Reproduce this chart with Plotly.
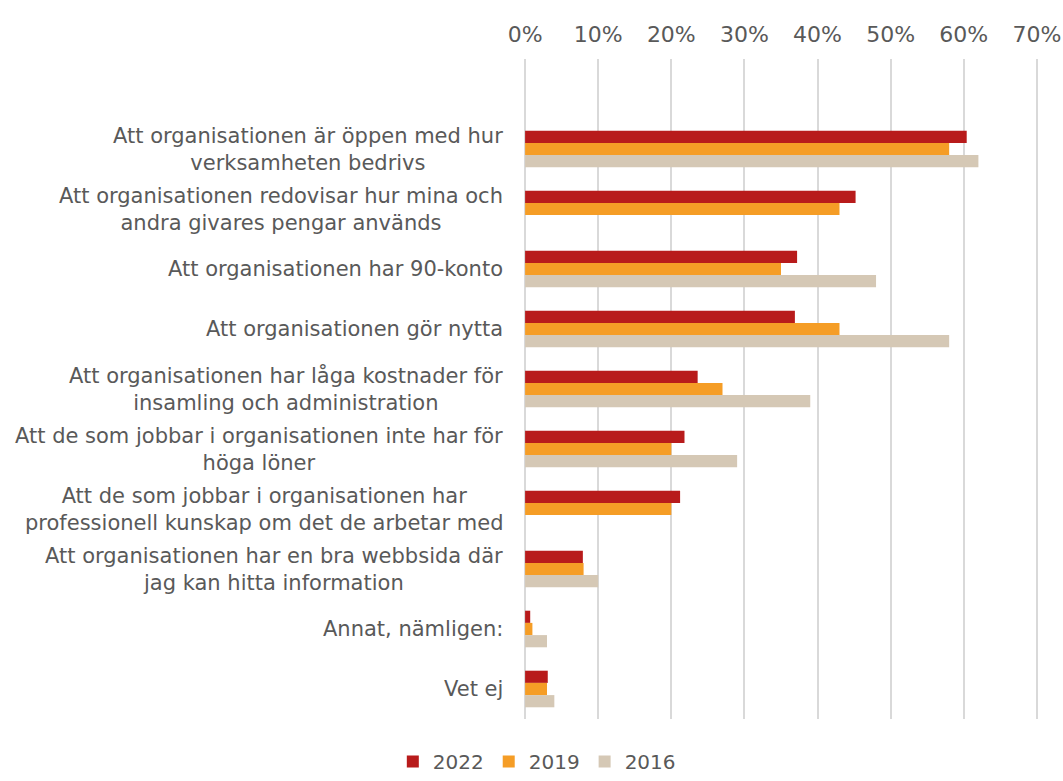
import plotly.graph_objects as go

categories = [
    "Att organisationen är öppen med hur<br>verksamheten bedrivs",
    "Att organisationen redovisar hur mina och<br>andra givares pengar används",
    "Att organisationen har 90-konto",
    "Att organisationen gör nytta",
    "Att organisationen har låga kostnader för<br>insamling och administration",
    "Att de som jobbar i organisationen inte har för<br>höga löner",
    "Att de som jobbar i organisationen har<br>professionell kunskap om det de arbetar med",
    "Att organisationen har en bra webbsida där<br>jag kan hitta information",
    "Annat, nämligen:",
    "Vet ej",
]
cat_keys = [f"c{i}" for i in range(len(categories))]

v2022 = [60.4, 45.2, 37.2, 36.9, 23.6, 21.8, 21.2, 7.9, 0.7, 3.1]
v2019 = [58.0, 43.0, 35.0, 43.0, 27.0, 20.0, 20.0, 8.0, 1.0, 3.0]
v2016 = [62.0, None, 48.0, 58.0, 39.0, 29.0, None, 10.0, 3.0, 4.0]

x_ticks = [0, 10, 20, 30, 40, 50, 60, 70]
x_tick_labels = [f"{t}%" for t in x_ticks]

series = [("2022", v2022, "#B81B1B"), ("2019", v2019, "#F59D26"), ("2016", v2016, "#D5C8B5")]

FONT = "DejaVu Sans"
GREY = "#595959"
GRID = "#D9D9D9"

fig = go.Figure()
for name, vals, col in series:
    fig.add_trace(go.Bar(
        y=cat_keys, x=vals, name=name, orientation="h",
        marker=dict(color=col, line=dict(width=0)),
    ))

for key, label in zip(cat_keys, categories):
    fig.add_annotation(
        x=0, xref="paper", y=key, yref="y", xanchor="right", yanchor="middle",
        xshift=-19, text=label, showarrow=False, align="center",
        font=dict(family=FONT, size=21, color=GREY),
    )

fig.update_layout(
    width=1063, height=781,
    margin=dict(l=524, r=25, t=59, b=62),
    paper_bgcolor="white", plot_bgcolor="white",
    barmode="group", bargap=0.39, bargroupgap=0,
    font=dict(family=FONT, size=20, color=GREY),
    xaxis=dict(
        side="top", range=[-0.15, 70.15], tickvals=x_ticks, ticktext=x_tick_labels,
        showgrid=True, gridcolor=GRID, gridwidth=1.5, automargin=False,
        zeroline=False, showline=False, ticks="", ticklen=0,
        ticklabelstandoff=12,
        tickfont=dict(family=FONT, size=22, color=GREY),
    ),
    yaxis=dict(
        type="category", categoryorder="array", categoryarray=cat_keys,
        range=[9.5, -1.5], showticklabels=False, showgrid=False, automargin=False,
        zeroline=False, showline=False, ticks="",
    ),
    legend=dict(
        orientation="h", x=0.505, xanchor="center", xref="container",
        y=0.0, yanchor="bottom", yref="container",
        font=dict(family=FONT, size=20, color=GREY),
        itemwidth=30, traceorder="normal",
    ),
)

fig.write_html("out.html", config={"displayModeBar": False},
               post_script="document.body.style.margin='0';")
